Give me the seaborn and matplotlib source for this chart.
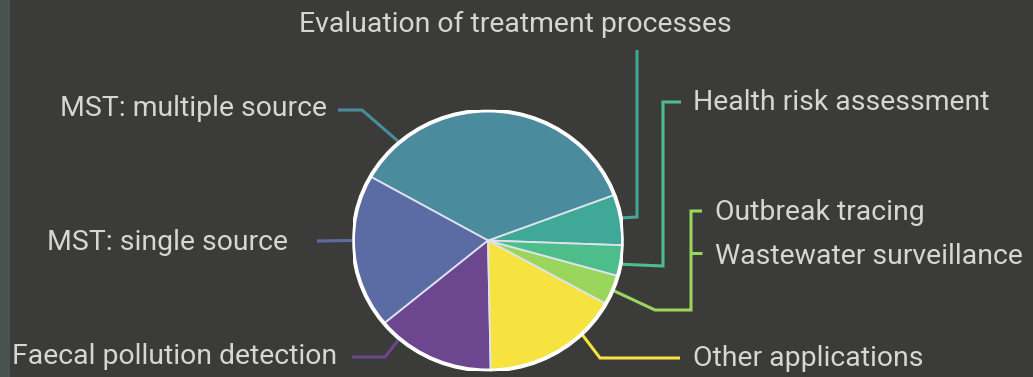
import numpy as np
import matplotlib
matplotlib.use("Agg")
import matplotlib.pyplot as plt
import seaborn as sns

# Applications of the method, ordered counter-clockwise from the right-hand side
slices = [
    "Evaluation of treatment processes",
    "MST: multiple source",
    "MST: single source",
    "Faecal pollution detection",
    "Other applications",
    "Outbreak tracing / Wastewater surveillance",
    "Health risk assessment",
]
shares = [6.3, 36.1, 19.2, 14.3, 16.6, 3.7, 3.8]
slice_colors = ["#3fa897", "#4a8c9e", "#5b6ca5", "#6c4790", "#f7e33f", "#9bd65c", "#4cbd8b"]

BG = "#3b3b39"
TEXT = "#d6d6d4"

sns.set_theme(style="dark", rc={"axes.facecolor": BG, "figure.facecolor": BG})
plt.rcParams["font.family"] = ["Roboto", "DejaVu Sans"]
palette = sns.color_palette(slice_colors)

W, H = 1033, 377
fig = plt.figure(figsize=(W / 100, H / 100), dpi=100)

# Overlay axes in pixel coordinates for labels and leader lines
ax = fig.add_axes([0, 0, 1, 1])
ax.set_xlim(0, W)
ax.set_ylim(H, 0)
ax.axis("off")
ax.add_patch(plt.Rectangle((0, 0), 10, H, color="#485350", lw=0, zorder=0))

# Pie axes
cx, cy, rx, ry = 488, 240.5, 135, 130
pax = fig.add_axes([(cx - rx) / W, (H - cy - ry) / H, 2 * rx / W, 2 * ry / H])
wedges, _ = pax.pie(shares, colors=palette, startangle=-2.1, radius=1,
                    wedgeprops=dict(edgecolor="#dfe3ee", linewidth=1.3))
pax.set_aspect("auto")
pax.set_xlim(-1, 1)
pax.set_ylim(-1, 1)
pax.axis("off")
ring = plt.Circle((0, 0), 1, fill=False, edgecolor="white", linewidth=2.8)
pax.add_patch(ring)


def edge_pt(deg):
    a = np.deg2rad(deg)
    return cx + rx * np.cos(a), cy - ry * np.sin(a)


lw = 2.2
fs = 20.4


def leader(deg, pts, color):
    x0, y0 = edge_pt(deg)
    xs = [x0] + [p[0] for p in pts]
    ys = [y0] + [p[1] for p in pts]
    ax.plot(xs, ys, color=color, lw=lw, solid_capstyle="butt", solid_joinstyle="miter", zorder=1)


def label(x, y, s, ha="left"):
    ax.text(x, y + 2, s, color=TEXT, fontsize=fs, ha=ha, va="center")


# Evaluation of treatment processes
leader(10, [(637, 217), (637, 50)], palette[0])
label(515, 22, "Evaluation of treatment processes", ha="center")

# MST: multiple source
leader(131, [(362, 110), (338, 110)], palette[1])
label(327, 106, "MST: multiple source", ha="right")

# MST: single source
leader(180, [(317, 241)], palette[2])
label(47, 241, "MST: single source")

# Faecal pollution detection
leader(229, [(385, 357), (352, 357)], palette[3])
label(12, 354, "Faecal pollution detection")

# Other applications
leader(-46, [(600, 358), (680, 358)], palette[4])
label(693, 357, "Other applications")

# Outbreak tracing / Wastewater surveillance (shared bracket)
leader(-22.5, [(655, 310), (691, 310), (691, 211), (702, 211)], palette[5])
ax.plot([691, 702], [253, 253], color=palette[5], lw=lw, solid_capstyle="butt", zorder=1)
label(715, 211, "Outbreak tracing")
label(715, 254, "Wastewater surveillance")

# Health risk assessment
leader(-10.5, [(663, 266), (663, 102), (681, 102)], palette[6])
label(693, 101, "Health risk assessment")

fig.savefig("out.png", dpi=100, facecolor=BG)
